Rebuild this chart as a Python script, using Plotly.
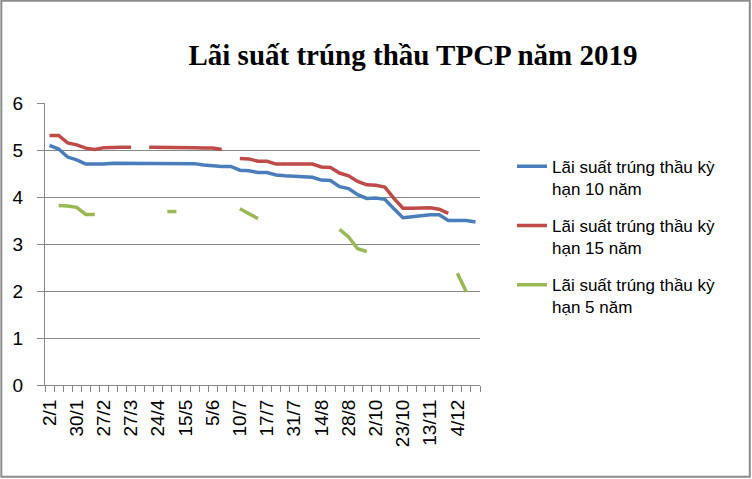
import plotly.graph_objects as go

# 48 auction sessions; only every third label is printed on the axis
n_sessions = 48
tick_positions = [0, 3, 6, 9, 12, 15, 18, 21, 24, 27, 30, 33, 36, 39, 42, 45]
tick_labels = ["2/1", "30/1", "27/2", "27/3", "24/4", "15/5", "5/6", "10/7",
               "17/7", "31/7", "14/8", "28/8", "2/10", "23/10", "13/11", "4/12"]

rate_10y = [5.10, 5.02, 4.85, 4.79, 4.70, 4.70, 4.70, 4.72, 4.72, 4.72,
            4.72, 4.72, 4.72, 4.72, 4.72, 4.72, 4.71, 4.68, 4.66, 4.65,
            4.65, 4.57, 4.56, 4.52, 4.52, 4.47, 4.45, 4.44, 4.43, 4.42,
            4.36, 4.35, 4.22, 4.18, 4.05, 3.97, 3.98, 3.95, 3.75, 3.56,
            3.58, 3.60, 3.62, 3.62, 3.50, 3.50, 3.50, 3.47]

rate_15y = [5.31, 5.31, 5.15, 5.11, 5.04, 5.01, 5.05, 5.06, 5.06, 5.06,
            None, 5.06, 5.06, 5.06, 5.06, 5.06, 5.05, 5.04, 5.04, 5.01,
            None, 4.82, 4.81, 4.76, 4.76, 4.70, 4.70, 4.70, 4.70, 4.70,
            4.64, 4.63, 4.51, 4.45, 4.33, 4.26, 4.25, 4.21, 3.97, 3.76,
            3.76, 3.77, 3.77, 3.74, 3.65, None, None, None]

rate_5y = [None, 3.82, 3.81, 3.78, 3.63, 3.63, None, None, None, None,
           None, None, None, 3.69, 3.69, None, None, None, None, None,
           None, 3.75, 3.65, 3.54, None, None, None, None, None, None,
           None, None, 3.31, 3.15, 2.90, 2.84, None, None, None, None,
           None, None, None, None, None, 2.38, 1.98, None]

series_names = ["Lãi suất trúng thầu kỳ<br>hạn 10 năm",
                "Lãi suất trúng thầu kỳ<br>hạn 15 năm",
                "Lãi suất trúng thầu kỳ<br>hạn 5 năm"]
series_colors = ["#4A7EBB", "#BE4B48", "#98B954"]

x_idx = list(range(n_sessions))
fig = go.Figure()
for i, (vals, name, col) in enumerate(zip([rate_10y, rate_15y, rate_5y], series_names, series_colors)):
    fig.add_trace(go.Scatter(x=x_idx, y=vals, mode="lines", name=name,
                             legendgroup=f"g{i}",
                             line=dict(color=col, width=3.5),
                             connectgaps=False))

W, H = 752, 479
L, R, T, B = 44.7, 480.0, 103.3, 385.3
pw, ph = R - L, B - T

def px(xp):
    return (xp - L) / pw

def py(yp):
    return (B - yp) / ph

grid = "#878787"
font_fam = "Liberation Sans, Arial, sans-serif"

fig.update_layout(
    width=W, height=H,
    margin=dict(l=L, r=W - R, t=T, b=H - B, pad=0),
    paper_bgcolor="white", plot_bgcolor="white",
    font=dict(family=font_fam, size=17, color="black"),
    title=dict(text="<b>Lãi suất trúng thầu TPCP năm 2019</b>",
               font=dict(family="Liberation Serif, Times New Roman, serif", size=29, color="black"),
               x=413 / W, xanchor="center", xref="container",
               y=1 - 55 / H, yanchor="middle", yref="container"),
    showlegend=True,
    legend=dict(x=px(512), xanchor="left", y=py(149), yanchor="top",
                font=dict(family=font_fam, size=17, color="black"),
                valign="top", tracegroupgap=12, traceorder="grouped",
                bgcolor="rgba(0,0,0,0)"),
    xaxis=dict(range=[-0.5, n_sessions - 0.5], showgrid=False, zeroline=False,
               showline=True, linecolor=grid, linewidth=1,
               tickmode="array", tickvals=tick_positions, ticktext=tick_labels,
               ticks="", tickangle=-90, tickfont=dict(size=19),
               ticklabelstandoff=6,
               minor=dict(tickmode="array", tickvals=[i - 0.5 for i in range(n_sessions + 1)],
                          ticks="outside", ticklen=6, tickcolor=grid, tickwidth=1, showgrid=False),
               fixedrange=True),
    yaxis=dict(range=[0, 6], dtick=1, tick0=0, showgrid=True, gridcolor=grid, gridwidth=1,
               zeroline=False, showline=True, linecolor=grid, linewidth=1,
               ticks="outside", ticklen=7, tickcolor=grid,
               tickfont=dict(size=19), ticklabelstandoff=10, fixedrange=True),
)

# chart-area border
fig.add_shape(type="rect", xref="paper", yref="paper",
              x0=px(1), x1=px(750), y0=py(477), y1=py(1),
              line=dict(color="#8C8C8C", width=2), fillcolor="rgba(0,0,0,0)", layer="below")

fig.write_html("out.html")
